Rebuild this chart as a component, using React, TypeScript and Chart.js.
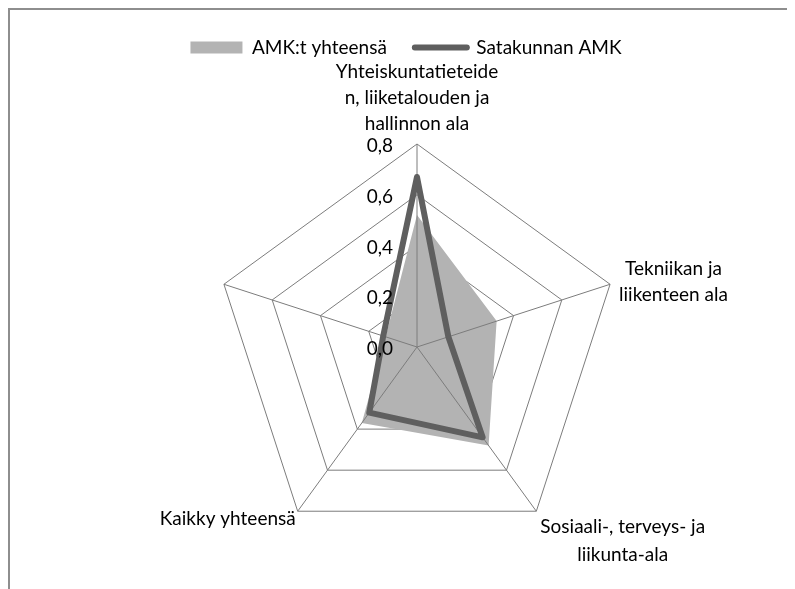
import React, { useEffect, useRef } from "react";
import { Chart, registerables } from "chart.js";

Chart.register(...registerables);

// ---- data ----
const categories: string[][] = [
  ["Yhteiskuntatieteide", "n, liiketalouden ja", "hallinnon ala"],
  ["Tekniikan ja", "liikenteen ala"],
  ["Sosiaali-, terveys- ja", "liikunta-ala"],
  ["Kaikky yhteensä"],
  [""],
];
const seriesNames = ["AMK:t yhteensä", "Satakunnan AMK"];
const amkYhteensa = [0.52, 0.33, 0.48, 0.37, 0.13];
const satakunnanAmk = [0.67, 0.13, 0.44, 0.32, 0.14];
const tickLabels = ["0,0", "0,2", "0,4", "0,6", "0,8"];

// ---- styles ----
const GRID = "#7c7c7c";
const GRAY_FILL = "#b3b3b3";
const DARK = "#5f5f5f";
const FONT = "Lato";
const FONT_SIZE = 19;
const LINE_H = 26;

const legendShiftPlugin = {
  id: "legendShift",
  afterLayout(chart: any) {
    const l = chart.legend;
    if (!l) return;
    l.left -= 11;
    l.right -= 11;
  },
};

const spokesPlugin = {
  id: "spokes",
  afterDatasetDraw(chart: any, args: any) {
    if (args.index !== 0) return;
    const scale = chart.scales.r;
    const ctx = chart.ctx;
    ctx.save();
    ctx.strokeStyle = GRID;
    ctx.lineWidth = 1;
    for (let i = 0; i < chart.data.labels.length; i++) {
      const p = scale.getPointPosition(i, scale.drawingArea);
      ctx.beginPath();
      ctx.moveTo(scale.xCenter, scale.yCenter);
      ctx.lineTo(p.x, p.y);
      ctx.stroke();
    }
    ctx.restore();
  },
};

const textPlugin = {
  id: "radarTexts",
  afterDraw(chart: any) {
    const scale = chart.scales.r;
    const ctx = chart.ctx;
    ctx.save();
    ctx.font = `${FONT_SIZE}px ${FONT}`;
    ctx.fillStyle = "#000";
    // tick labels, left of the vertical spoke
    ctx.textAlign = "right";
    ctx.textBaseline = "middle";
    scale.ticks.forEach((t: any, i: number) => {
      const d = scale.getDistanceFromCenterForValue(t.value);
      ctx.fillText(tickLabels[i] ?? "", scale.xCenter - 24, scale.yCenter - d + 2);
    });
    // point labels
    const labels = chart.data.labels as string[][];
    const n = labels.length;
    ctx.textAlign = "center";
    labels.forEach((lab, i) => {
      const lines = Array.isArray(lab) ? lab : [lab];
      const p = scale.getPointPosition(i, scale.drawingArea);
      const ang = (i / n) * Math.PI * 2;
      const s = Math.sin(ang);
      const c = Math.cos(ang);
      const bw = Math.max(...lines.map((l) => ctx.measureText(l).width));
      const k = lines.length - 1;
      let left: number;
      let mid0: number;
      if (Math.abs(s) < 0.01) {
        left = p.x - bw / 2;
        mid0 = p.y - 20 - k * LINE_H;
      } else if (s > 0 && c >= 0) {
        left = p.x + 9;
        mid0 = p.y - 2 - (k * LINE_H) / 2;
      } else if (s > 0) {
        left = p.x + 4;
        mid0 = p.y + 16;
      } else if (c < 0) {
        left = p.x - 2 - bw;
        mid0 = p.y + 8 - (k * LINE_H) / 2;
      } else {
        left = p.x - 8 - bw;
        mid0 = p.y - (k * LINE_H) / 2;
      }
      const lh = s > 0 && c < 0 ? LINE_H + 2 : LINE_H;
      lines.forEach((l, j) => {
        ctx.fillText(l, left + bw / 2, mid0 + j * lh);
      });
    });
    ctx.restore();
  },
};

function RadarChart() {
  const ref = useRef<HTMLCanvasElement | null>(null);
  useEffect(() => {
    if (!ref.current) return;
    Chart.defaults.font.family = FONT;
    const chart = new Chart(ref.current, {
      type: "radar",
      data: {
        labels: categories as any,
        datasets: [
          {
            label: seriesNames[0],
            data: amkYhteensa,
            backgroundColor: GRAY_FILL,
            borderColor: GRAY_FILL,
            borderWidth: 0,
            fill: true,
            pointRadius: 0,
            order: 1,
          },
          {
            label: seriesNames[1],
            data: satakunnanAmk,
            backgroundColor: "transparent",
            borderColor: DARK,
            borderWidth: 6,
            borderJoinStyle: "round",
            borderCapStyle: "round",
            fill: false,
            pointRadius: 0,
            order: 0,
          },
        ],
      },
      options: {
        responsive: false,
        animation: false,
        events: [],
        layout: { padding: { top: 0, left: 29, right: 0, bottom: 39 } },
        elements: { line: { tension: 0 } },
        scales: {
          r: {
            min: 0,
            max: 0.8,
            ticks: { stepSize: 0.2, display: false },
            grid: { color: GRID, lineWidth: 1 },
            angleLines: { display: false },
            pointLabels: { display: false },
          },
        },
        plugins: {
          tooltip: { enabled: false },
          title: {
            display: true,
            text: "",
            weight: 0,
            padding: { top: 67, bottom: 0 },
            font: { size: 10, lineHeight: 1 },
          },
          legend: {
            position: "top",
            labels: {
              usePointStyle: true,
              pointStyleWidth: 52,
              boxHeight: 12,
              padding: 28,
              color: "#000",
              font: { size: FONT_SIZE, family: FONT },
              generateLabels: (ch: any) =>
                ch.data.datasets.map((ds: any, i: number) => ({
                  text: ds.label,
                  fillStyle: i === 0 ? GRAY_FILL : DARK,
                  strokeStyle: i === 0 ? GRAY_FILL : DARK,
                  lineWidth: i === 0 ? 0 : 6,
                  pointStyle: i === 0 ? "rect" : "line",
                  lineCap: "round",
                  hidden: false,
                  datasetIndex: i,
                  fontColor: "#000",
                })),
            },
          },
        },
      } as any,
      plugins: [legendShiftPlugin, spokesPlugin, textPlugin],
    });
    return () => chart.destroy();
  }, []);
  return <canvas ref={ref} width={785} height={579} style={{ display: "block" }} />;
}

export default function App() {
  return (
    <div
      style={{
        width: 787,
        height: 581,
        boxSizing: "border-box",
        borderTop: "2px solid #8e8e8e",
        borderLeft: "2px solid #8e8e8e",
        background: "#fff",
      }}
    >
      <RadarChart />
    </div>
  );
}
